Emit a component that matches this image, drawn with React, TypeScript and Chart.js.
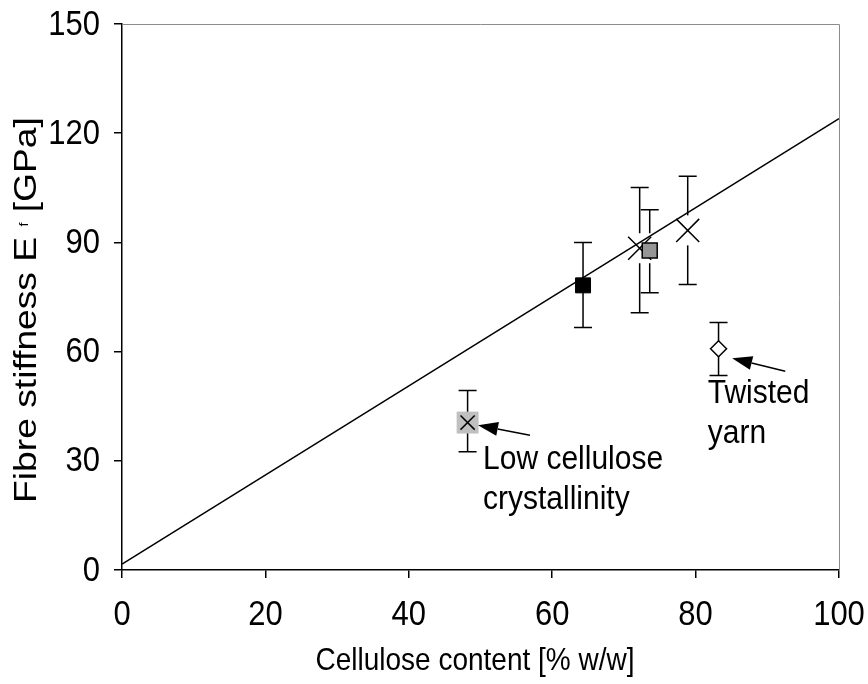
import React, { useEffect, useRef } from "react";
import { Chart, registerables } from "chart.js";
Chart.register(...registerables);

// ---- data ----
const X_TICKS = [0, 20, 40, 60, 80, 100];
const Y_TICKS = [0, 30, 60, 90, 120, 150];

const blackSquareX = [64.3];
const blackSquareY = [78.2];
const blackSquareErr = [[66.6, 90.0]];

const graySquareX = [73.6];
const graySquareY = [87.8];
const graySquareErr = [[76.2, 99.0]];

const crossX = [72.2, 78.9];
const crossY = [88.4, 93.3];
const crossErr = [[70.7, 105.1], [78.4, 108.2]];

const lowCrystX = [48.2];
const lowCrystY = [40.5];
const lowCrystErr = [[32.5, 49.3]];

const twistedX = [83.2];
const twistedY = [60.8];
const twistedErr = [[53.4, 68.0]];

const trendX = [0, 100];
const trendY = [1.6, 124.0];

const annotationLines = [["Low cellulose", "crystallinity"], ["Twisted", "yarn"]];
const annotationAnchor = [[50.35, 27.7], [81.7, 45.8]];
const arrowTail = [[56.9, 37.0], [92.5, 54.6]];
const arrowTip = [[49.65, 39.8], [85.1, 58.2]];

const X_TITLE = "Cellulose content [% w/w]";
const FONT = "'Liberation Sans', Arial, sans-serif";
const VSTRETCH = 1.12;

function pts(xs: number[], ys: number[]) {
  return xs.map((x, i) => ({ x, y: ys[i] }));
}

function text(ctx: CanvasRenderingContext2D, s: string, x: number, y: number, size: number, align: CanvasTextAlign, baseline: CanvasTextBaseline) {
  ctx.save();
  ctx.translate(x, y);
  ctx.scale(1, VSTRETCH);
  ctx.font = `${size}px ${FONT}`;
  ctx.fillStyle = "#000";
  ctx.textAlign = align;
  ctx.textBaseline = baseline;
  ctx.fillText(s, 0, 0);
  ctx.restore();
}

const errorSets: [number[], number[][]][] = [
  [blackSquareX, blackSquareErr],
  [graySquareX, graySquareErr],
  [crossX, crossErr],
  [lowCrystX, lowCrystErr],
  [twistedX, twistedErr],
];

const decor = {
  id: "decor",
  beforeDatasetsDraw(chart: any) {
    const { ctx, scales } = chart;
    const xs = scales.x, ys = scales.y;
    ctx.save();
    ctx.strokeStyle = "#000";
    ctx.lineWidth = 1.5;
    errorSets.forEach(([xArr, errArr]) => {
      xArr.forEach((xv, i) => {
        const px = xs.getPixelForValue(xv);
        const lo = ys.getPixelForValue(errArr[i][0]);
        const hi = ys.getPixelForValue(errArr[i][1]);
        ctx.beginPath();
        ctx.moveTo(px, lo); ctx.lineTo(px, hi);
        ctx.moveTo(px - 9, lo); ctx.lineTo(px + 9, lo);
        ctx.moveTo(px - 9, hi); ctx.lineTo(px + 9, hi);
        ctx.stroke();
      });
    });
    ctx.restore();
  },
  beforeDatasetDraw(chart: any, args: any) {
    if (args.meta.label !== "cross") return;
    const { ctx, scales } = chart;
    ctx.save();
    ctx.fillStyle = "#fff";
    crossX.forEach((xv, i) => {
      const px = scales.x.getPixelForValue(xv);
      const py = scales.y.getPixelForValue(crossY[i]);
      ctx.fillRect(px - 15, py - 15, 30, 30);
    });
    ctx.restore();
  },
  afterDraw(chart: any) {
    const { ctx, scales, chartArea } = chart;
    const xs = scales.x, ys = scales.y;
    // top / right frame
    ctx.save();
    ctx.strokeStyle = "#8c8c8c";
    ctx.lineWidth = 1;
    ctx.beginPath();
    ctx.moveTo(chartArea.left, Math.round(chartArea.top) + 0.5);
    ctx.lineTo(Math.round(chartArea.right) + 0.5, Math.round(chartArea.top) + 0.5);
    ctx.lineTo(Math.round(chartArea.right) + 0.5, chartArea.bottom);
    ctx.stroke();
    ctx.restore();

    // tick labels
    Y_TICKS.forEach((v) => text(ctx, String(v), chartArea.left - 22, ys.getPixelForValue(v) + 1, 31, "right", "middle"));
    X_TICKS.forEach((v) => text(ctx, String(v), xs.getPixelForValue(v), chartArea.bottom + 55, 31, "center", "alphabetic"));

    // axis titles
    text(ctx, X_TITLE, 475, 670, 28, "center", "alphabetic");

    ctx.save();
    ctx.translate(36, 310);
    ctx.rotate(-Math.PI / 2);
    ctx.scale(1.2, 1);
    ctx.fillStyle = "#000";
    ctx.textBaseline = "alphabetic";
    ctx.textAlign = "left";
    const big = `31px ${FONT}`;
    const small = `12px ${FONT}`;
    const parts: [string, string, number][] = [["Fibre stiffness E ", big, 0], ["f", small, -8], [" [GPa]", big, 0]];
    let total = 0;
    parts.forEach(([s, f]) => { ctx.font = f; total += ctx.measureText(s).width; });
    let cx = -total / 2;
    parts.forEach(([s, f, dy]) => { ctx.font = f; ctx.fillText(s, cx, dy); cx += ctx.measureText(s).width; });
    ctx.restore();

    // arrows
    ctx.save();
    ctx.strokeStyle = "#000";
    ctx.fillStyle = "#000";
    ctx.lineWidth = 1.5;
    arrowTail.forEach((t, i) => {
      const x0 = xs.getPixelForValue(t[0]), y0 = ys.getPixelForValue(t[1]);
      const x1 = xs.getPixelForValue(arrowTip[i][0]), y1 = ys.getPixelForValue(arrowTip[i][1]);
      const a = Math.atan2(y1 - y0, x1 - x0);
      const L = 20, W = 7;
      const bx = x1 - L * Math.cos(a), by = y1 - L * Math.sin(a);
      ctx.beginPath();
      ctx.moveTo(x0, y0); ctx.lineTo(bx, by);
      ctx.stroke();
      ctx.beginPath();
      ctx.moveTo(x1, y1);
      ctx.lineTo(bx + W * Math.sin(a), by - W * Math.cos(a));
      ctx.lineTo(bx - W * Math.sin(a), by + W * Math.cos(a));
      ctx.closePath();
      ctx.fill();
    });
    ctx.restore();

    // annotation text
    annotationLines.forEach((lines, i) => {
      const ax = xs.getPixelForValue(annotationAnchor[i][0]);
      const ay = ys.getPixelForValue(annotationAnchor[i][1]);
      lines.forEach((s, j) => text(ctx, s, ax, ay + j * 39.5, 30, "left", "alphabetic"));
    });
  },
};

export default function App() {
  const ref = useRef<HTMLCanvasElement>(null);
  useEffect(() => {
    const chart = new Chart(ref.current!, {
      type: "scatter",
      data: {
        datasets: [
          {
            type: "line", label: "trend", data: pts(trendX, trendY), order: 0,
            borderColor: "#000", borderWidth: 1.5, pointRadius: 0, fill: false,
          } as any,
          {
            label: "gray", data: pts(graySquareX, graySquareY), order: 1,
            pointStyle: "rect", pointRadius: 10.6, backgroundColor: "#969696", borderColor: "#000", borderWidth: 1.5,
          },
          {
            label: "black", data: pts(blackSquareX, blackSquareY), order: 2,
            pointStyle: "rect", pointRadius: 10.6, backgroundColor: "#000", borderColor: "#000", borderWidth: 1,
          },
          {
            label: "lowX", data: pts(lowCrystX, lowCrystY), order: 3,
            pointStyle: "crossRot", pointRadius: 10, backgroundColor: "#000", borderColor: "#000", borderWidth: 1.5,
          },
          {
            label: "lowSq", data: pts(lowCrystX, lowCrystY), order: 4,
            pointStyle: "rect", pointRadius: 15.5, backgroundColor: "#c0c0c0", borderColor: "#c0c0c0", borderWidth: 0,
          },
          {
            label: "twisted", data: pts(twistedX, twistedY), order: 5,
            pointStyle: "rectRot", pointRadius: 8, backgroundColor: "#fff", borderColor: "#000", borderWidth: 1.5,
          },
          {
            label: "cross", data: pts(crossX, crossY), order: 6,
            pointStyle: "crossRot", pointRadius: 16.3, backgroundColor: "#000", borderColor: "#000", borderWidth: 1.5,
          },
        ],
      },
      options: {
        animation: false,
        responsive: true,
        maintainAspectRatio: false,
        layout: { padding: { left: 114, top: 24, right: 29, bottom: 106 } },
        plugins: { legend: { display: false }, tooltip: { enabled: false } },
        scales: {
          x: {
            type: "linear", min: 0, max: 100,
            afterBuildTicks: (s: any) => { s.ticks = X_TICKS.map((v) => ({ value: v })); },
            ticks: { display: false },
            grid: { drawOnChartArea: false, drawTicks: true, tickLength: 8, color: "#000", lineWidth: 1.5 },
            border: { display: true, color: "#000", width: 1.5 },
          },
          y: {
            type: "linear", min: 0, max: 150,
            afterBuildTicks: (s: any) => { s.ticks = Y_TICKS.map((v) => ({ value: v })); },
            ticks: { display: false },
            grid: { drawOnChartArea: false, drawTicks: true, tickLength: 8, color: "#000", lineWidth: 1.5 },
            border: { display: true, color: "#000", width: 1.5 },
          },
        },
      },
      plugins: [decor],
    });
    return () => chart.destroy();
  }, []);
  return (
    <div style={{ position: "fixed", left: 0, top: 0, width: 868, height: 684, background: "#fff" }}>
      <canvas ref={ref} />
    </div>
  );
}
